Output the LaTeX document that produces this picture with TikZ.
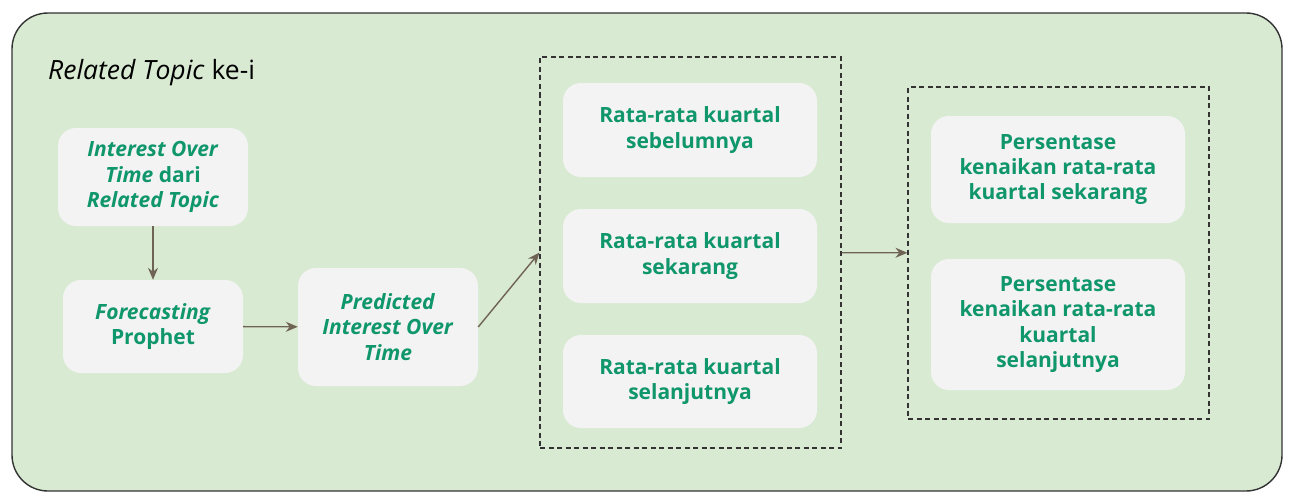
\documentclass[tikz,border=0pt]{standalone}
\usepackage{fontspec}
\setmainfont{Open Sans}
\usetikzlibrary{arrows.meta}

\definecolor{bggreen}{HTML}{D9EAD3}
\definecolor{boxgray}{HTML}{F3F3F3}
\definecolor{txtgreen}{HTML}{0F966A}
\definecolor{arrbrown}{HTML}{6F6353}

\begin{document}
\begin{tikzpicture}[x=1pt,y=-1pt,
    box/.style={rectangle, rounded corners=18pt, fill=boxgray, text=txtgreen, align=center, inner sep=0pt,
        font=\bfseries\fontsize{21}{25.4}\selectfont},
    grp/.style={draw=black!80, dash pattern=on 5pt off 3.5pt, line width=1.1pt, inner sep=0pt},
    arr/.style={-{Stealth[length=12pt,width=10pt]}, draw=arrbrown, line width=1.4pt}]
    \useasboundingbox(0,0)rectangle(1295,503);
    \draw[fill=bggreen, draw=black!80, line width=1.4pt, rounded corners=36pt](12,13)rectangle(1282,491);
    \node[anchor=base west, inner sep=0pt, font=\fontsize{26.5}{30}\selectfont](title)at(48,80){\textit{Related Topic} ke-i};

    \node[box, minimum width=190, minimum height=98](iot)at(153,177){\textit{Interest Over}\\\textit{Time} dari\\\textit{Related Topic}};
    \node[box, minimum width=180, minimum height=93](prophet)at(153,326.5){\textit{Forecasting}\\Prophet};
    \node[box, minimum width=180, minimum height=118](pred)at(388,327){\textit{Predicted}\\\textit{Interest Over}\\\textit{Time}};

    \node[grp, minimum width=301, minimum height=391](rata)at(690.5,252.5){};
    \node[box, minimum width=254, minimum height=94](sebelum)at(690,130){Rata-rata kuartal\\sebelumnya};
    \node[box, minimum width=254, minimum height=94](sekarang)at(690,256){Rata-rata kuartal\\sekarang};
    \node[box, minimum width=254, minimum height=93](lanjut)at(690,381.5){Rata-rata kuartal\\selanjutnya};

    \node[grp, minimum width=301, minimum height=332](persen)at(1058.5,253){};
    \node[box, minimum width=254, minimum height=107](psekarang)at(1058,169.5){Persentase\\kenaikan rata-rata\\kuartal sekarang};
    \node[box, minimum width=254, minimum height=131](planjut)at(1058,324.5){Persentase\\kenaikan rata-rata\\kuartal\\selanjutnya};

    \draw[arr](iot)--(prophet);
    \draw[arr](prophet)--(pred);
    \draw[arr](pred.east)--(rata.west);
    \draw[arr](rata)--(persen);
\end{tikzpicture}
\end{document}
